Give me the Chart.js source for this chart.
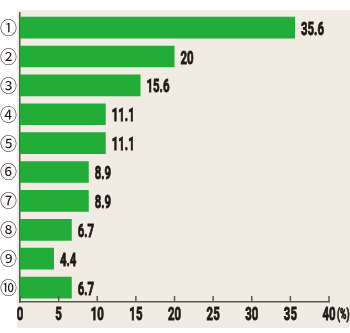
<!DOCTYPE html>
<html>
<head>
<meta charset="utf-8">
<script src="https://cdn.jsdelivr.net/npm/chart.js@4"></script>
<style>
  html, body { margin: 0; padding: 0; background: #ffffff; }
  #wrap { width: 350px; height: 333px; position: relative; }
</style>
</head>
<body>
<div id="wrap"><canvas id="myChart"></canvas></div>
<script>
// chart data
const categories = ['①', '②', '③', '④', '⑤', '⑥', '⑦', '⑧', '⑨', '⑩'];
const shares = [35.6, 20, 15.6, 11.1, 11.1, 8.9, 8.9, 6.7, 4.4, 6.7];
const xTicks = [0, 5, 10, 15, 20, 25, 30, 35, 40];
const unitLabel = '(%)';

const numFont = 'Roboto, "Liberation Sans", sans-serif';

// squeezed text, the original uses a heavy condensed face
function narrowText(c, txt, x, y, align, squeeze) {
    c.save();
    c.translate(x, y);
    c.scale(squeeze, 1);
    c.textAlign = align;
    c.lineWidth = 0.9;
    c.strokeStyle = c.fillStyle;
    c.fillText(txt, 0, 0);
    c.strokeText(txt, 0, 0);
    c.restore();
}

// paper background, up-ticks on x axis, tick labels, value labels, unit
const decor = {
    id: 'decor',
    beforeDraw(chart) {
        const c = chart.ctx, a = chart.chartArea;
        c.save();
        c.fillStyle = '#f1ece3';
        c.fillRect(a.left - 3, a.top - 3, chart.width - a.left + 3, a.bottom - a.top + 29);
        c.restore();
    },
    afterDraw(chart) {
        const c = chart.ctx, a = chart.chartArea;
        const x = chart.scales.x;
        c.save();
        c.strokeStyle = '#595757';
        c.lineWidth = 1.5;
        xTicks.forEach(t => {
            const px = x.getPixelForValue(t);
            c.beginPath();
            c.moveTo(px, a.bottom);
            c.lineTo(px, a.bottom - 6);
            c.stroke();
        });
        c.fillStyle = '#231815';
        c.textBaseline = 'alphabetic';
        c.font = 'bold 19px ' + numFont;
        // x tick labels
        xTicks.forEach(t => {
            narrowText(c, String(t), x.getPixelForValue(t), a.bottom + 18, 'center', 0.6);
        });
        // value labels
        const meta = chart.getDatasetMeta(0);
        meta.data.forEach((bar, i) => {
            narrowText(c, String(shares[i]), bar.x + 6, bar.y + 7, 'left', 0.6);
        });
        // unit after last tick
        c.font = 'bold 15px ' + numFont;
        narrowText(c, unitLabel, x.getPixelForValue(40) + 8, a.bottom + 17, 'left', 0.58);
        c.restore();
    }
};

const ctx = document.getElementById('myChart').getContext('2d');
const myChart = new Chart(ctx, {
    type: 'bar',
    data: {
        labels: categories,
        datasets: [{
            data: shares,
            backgroundColor: '#22ac38',
            borderWidth: 0,
            barPercentage: 0.75,
            categoryPercentage: 1
        }]
    },
    options: {
        indexAxis: 'y',
        responsive: true,
        maintainAspectRatio: false,
        animation: false,
        layout: { padding: { left: 0, right: 21, top: 7, bottom: 0 } },
        plugins: {
            legend: { display: false },
            tooltip: { enabled: false }
        },
        scales: {
            x: {
                min: 0,
                max: 40,
                grid: { display: false, drawTicks: false },
                border: { display: true, color: '#595757', width: 1.5 },
                ticks: {
                    stepSize: 5,
                    color: 'rgba(0,0,0,0)',
                    font: { size: 10 }
                },
                afterFit(scale) { scale.height = 31; }
            },
            y: {
                grid: { display: false, drawTicks: false },
                border: { display: true, color: '#595757', width: 1.5 },
                ticks: {
                    padding: 3,
                    color: '#231815',
                    font: { family: '"Noto Sans CJK JP", "DejaVu Sans", sans-serif', size: 17 }
                },
                afterFit(scale) { scale.width = 20; }
            }
        }
    },
    plugins: [decor]
});
</script>
</body>
</html>
